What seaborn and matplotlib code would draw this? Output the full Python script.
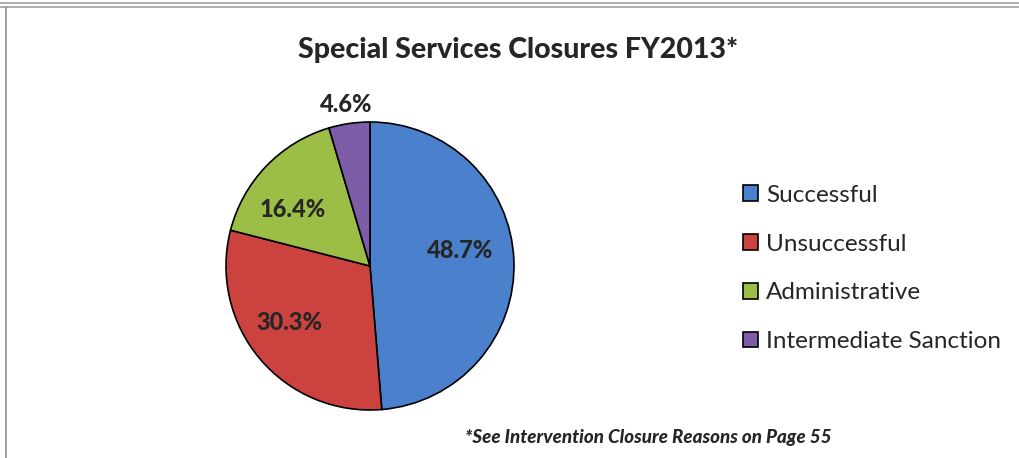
import matplotlib
matplotlib.use("Agg")
import seaborn as sns
import matplotlib.pyplot as plt
from matplotlib.lines import Line2D

categories = ["Successful", "Unsuccessful", "Administrative", "Intermediate Sanction"]
shares = [48.7, 30.3, 16.4, 4.6]
pct_labels = ["48.7%", "30.3%", "16.4%", "4.6%"]
colors = ["#4a80cc", "#cc423e", "#9cbe46", "#7d5ca8"]

title = "Special Services Closures FY2013*"
footnote = "*See Intervention Closure Reasons on Page 55"

sns.set_style("white")
plt.rcParams["font.family"] = ["Lato", "DejaVu Sans"]

W, H = 1020, 458
fig = plt.figure(figsize=(W / 100, H / 100), dpi=100)
ax = fig.add_axes([0, 0, 1, 1])

wedges, _ = ax.pie(shares, colors=colors, startangle=90, counterclock=False,
                   center=(370, H - 266), radius=144,
                   wedgeprops=dict(edgecolor="black", linewidth=1.2))
ax.set_xlim(0, W)
ax.set_ylim(0, H)
ax.set_aspect("equal")
ax.axis("off")

# percentage labels
label_pos = [(460, 251), (289, 323), (293, 210), (346, 104)]
for (x, y), txt in zip(label_pos, pct_labels):
    ax.text(x, H - y, txt, ha="center", va="center", fontsize=17, fontweight="black")

ax.text(518, H - 50, title, ha="center", va="center", fontsize=20.5, fontweight="black")
ax.text(832, H - 438, footnote, ha="right", va="center", fontsize=13.5,
        fontweight="black", style="italic")

leg = fig.legend(wedges, categories, loc="upper left",
                 bbox_to_anchor=(721 / W, 1 - 163 / H), frameon=False,
                 fontsize=17.5, handlelength=0.62, handleheight=0.62,
                 handletextpad=0.33, labelspacing=1.14)

# frame lines
fig.add_artist(Line2D([0, 1], [1 - 3 / H, 1 - 3 / H], color="#a0a0a0", lw=1.2))
fig.add_artist(Line2D([0, 1], [1 - 7 / H, 1 - 7 / H], color="#a0a0a0", lw=1.2))
fig.add_artist(Line2D([6 / W, 6 / W], [0, 1 - 7 / H], color="#909090", lw=1.2))

fig.savefig("out.png", dpi=100)
